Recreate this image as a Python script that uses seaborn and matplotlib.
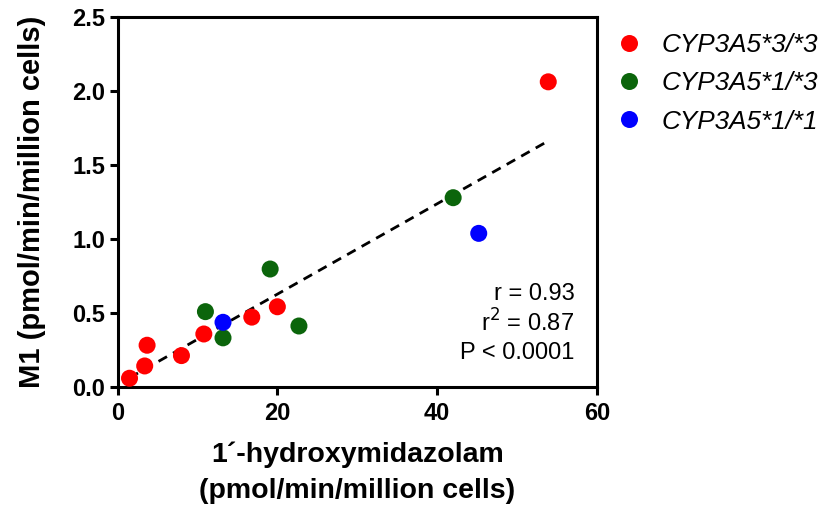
import numpy as np
import pandas as pd
import seaborn as sns
import matplotlib
matplotlib.use("Agg")
import matplotlib.pyplot as plt

# values
hydroxy = [1.5, 3.4, 3.7, 8.0, 10.8, 16.8, 20.0, 53.9,
           11.0, 13.2, 19.1, 22.7, 42.0,
           13.2, 45.2]
m1 = [0.057, 0.14, 0.28, 0.21, 0.356, 0.47, 0.54, 2.06,
      0.507, 0.33, 0.795, 0.41, 1.277,
      0.435, 1.036]
genotype = (["CYP3A5*3/*3"] * 8 + ["CYP3A5*1/*3"] * 5 + ["CYP3A5*1/*1"] * 2)
genotype_order = ["CYP3A5*3/*3", "CYP3A5*1/*3", "CYP3A5*1/*1"]
genotype_colors = ["#ff0000", "#0b650b", "#0000ff"]
stats_text = ["r = 0.93", "r$^2$ = 0.87", "P < 0.0001"]

df = pd.DataFrame({"x": hydroxy, "y": m1, "geno": genotype})

sns.set_style("ticks")
plt.rcParams["font.family"] = ["Liberation Sans", "DejaVu Sans"]
for k in ["text.color", "axes.labelcolor", "xtick.color", "ytick.color",
          "axes.edgecolor"]:
    plt.rcParams[k] = "black"

fig, ax = plt.subplots(figsize=(8.23, 5.11), dpi=100)
fig.subplots_adjust(left=0.1428, right=0.7254, bottom=0.2433, top=0.9673)

# regression line (dashed)
sns.regplot(data=df, x="x", y="y", scatter=False, ci=None, ax=ax,
            line_kws=dict(color="black", lw=2, ls=(0, (3.5, 2.5))))

sns.scatterplot(data=df, x="x", y="y", hue="geno", hue_order=genotype_order,
                palette=genotype_colors, s=150, edgecolor="none", ax=ax,
                zorder=3, clip_on=False)

ax.set_xlim(0, 60)
ax.set_ylim(0, 2.5)
ax.set_xticks([0, 20, 40, 60])
ax.set_yticks([0, 0.5, 1.0, 1.5, 2.0, 2.5])
ax.set_yticklabels(["0.0", "0.5", "1.0", "1.5", "2.0", "2.5"])
for lab in ax.get_xticklabels() + ax.get_yticklabels():
    lab.set_fontweight("bold")
    lab.set_fontsize(17)
ax.tick_params(width=2.2, length=6, direction="out", pad=3)
ax.tick_params(axis="x", pad=5)
for sp in ax.spines.values():
    sp.set_linewidth(2.2)
    sp.set_visible(True)

ax.set_xlabel("1\u00b4-hydroxymidazolam\n(pmol/min/million cells)",
              fontsize=20.5, fontweight="bold", labelpad=12, linespacing=1.5)
ax.set_ylabel("M1 (pmol/min/million cells)", fontsize=21, fontweight="bold",
              labelpad=19)

for i, t in enumerate(stats_text):
    ax.text(0.953, 0.25 - i * 0.079, t, transform=ax.transAxes,
            ha="right", va="center", fontsize=17)

handles, labels = ax.get_legend_handles_labels()
ax.legend(handles, labels, loc="upper left", bbox_to_anchor=(0.99, 1.02),
          frameon=False, prop=dict(style="italic", size=18.8),
          handletextpad=0.75, labelspacing=0.55, markerscale=1.0,
          handlelength=1.0)

fig.savefig("out.png", dpi=100)
